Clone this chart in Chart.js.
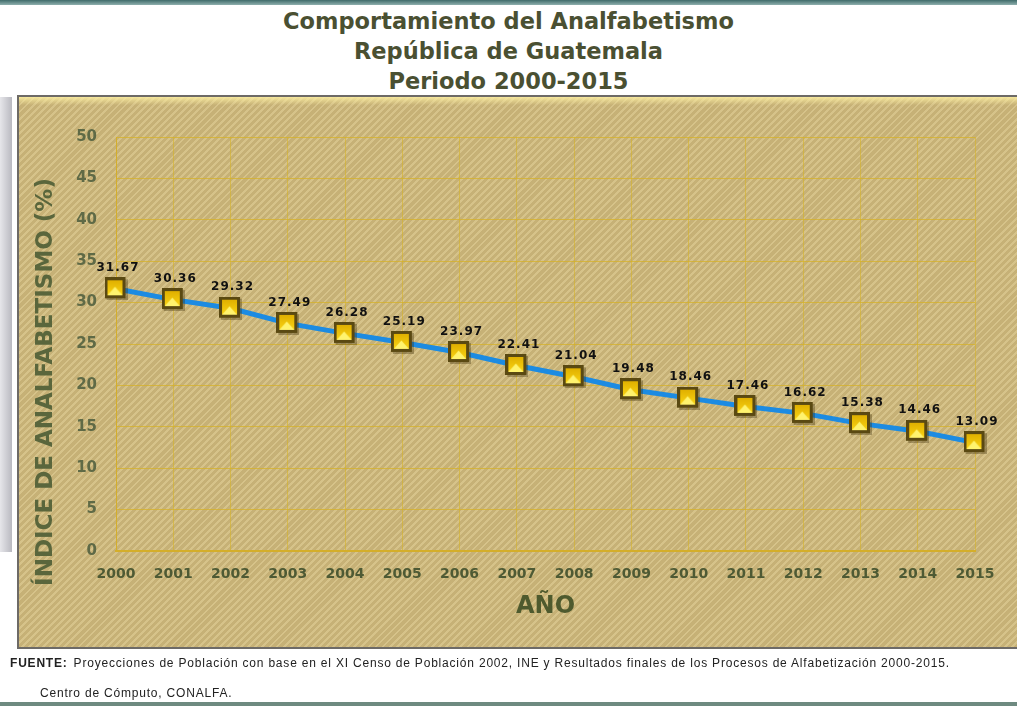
<!DOCTYPE html>
<html>
<head>
<meta charset="utf-8">
<script src="https://cdn.jsdelivr.net/npm/chart.js@4.4.1/dist/chart.umd.min.js"></script>
<style>
  body { margin: 0; background: #fff; width: 1017px; height: 706px; overflow: hidden; position: relative; font-family: "DejaVu Sans", sans-serif; }
  #topband { position: absolute; left: 0; top: 0; width: 1017px; height: 5px; background: linear-gradient(#3f6b6a, #8fb0ae); }
  #botband { position: absolute; left: 0; top: 702px; width: 1017px; height: 4px; background: #6e8a80; }
  #leftstrip { position: absolute; left: 0; top: 97px; width: 12px; height: 455px; background: linear-gradient(90deg, #e6e6ea, #b9b9c0); }
  #title { position: absolute; left: 0; top: 6px; width: 1017px; text-align: center; color: #4a5032; font-weight: bold; font-size: 22.5px; line-height: 30px; }
  #panel { position: absolute; left: 17px; top: 95px; width: 1010px; height: 550px; border: 2px solid #6d6a66;
    background-color: #cbb67b;
    background-image: linear-gradient(rgba(250,236,160,0.9), rgba(250,236,160,0) 8px),
      repeating-linear-gradient(135deg, rgba(255,240,190,0.22) 0 2px, rgba(120,95,40,0.06) 2px 5px); }
  #chart { position: absolute; left: 0; top: 0; }
  #fuente { position: absolute; left: 10px; top: 656px; font-family: "Liberation Sans", Arial, sans-serif; font-size: 12px; color: #222; letter-spacing: 0.8px; white-space: nowrap; }
  #fuente b { letter-spacing: 0.8px; margin-right: 6px; }
  #centro { position: absolute; left: 40px; top: 686px; font-family: "Liberation Sans", Arial, sans-serif; font-size: 12px; color: #222; letter-spacing: 0.8px; }
</style>
</head>
<body>
<div id="topband"></div>
<div id="leftstrip"></div>
<div id="title">Comportamiento del Analfabetismo<br>República de Guatemala<br>Periodo 2000-2015</div>
<div id="panel"></div>
<canvas id="chart" width="1017" height="706"></canvas>
<div id="fuente"><b>FUENTE:</b>Proyecciones de Población con base en el XI Censo de Población 2002, INE y Resultados finales de los Procesos de Alfabetización 2000-2015.</div>
<div id="centro">Centro de Cómputo, CONALFA.</div>
<div id="botband"></div>
<script>
// datos del grafico
var years = ['2000','2001','2002','2003','2004','2005','2006','2007','2008','2009','2010','2011','2012','2013','2014','2015'];
var indice = [31.67, 30.36, 29.32, 27.49, 26.28, 25.19, 23.97, 22.41, 21.04, 19.48, 18.46, 17.46, 16.62, 15.38, 14.46, 13.09];
var yMin = 0;
var yMax = 50;
var yStep = 5;
var yTitle = 'ÍNDICE DE ANALFABETISMO (%)';
var xTitle = 'AÑO';

// marcador cuadrado amarillo
function makeMarker(){
  var c = document.createElement('canvas');
  c.width = 23; c.height = 23;
  var g = c.getContext('2d');
  g.fillStyle = 'rgba(60,45,10,0.35)';
  g.fillRect(2, 2, 21, 21);
  g.fillStyle = '#5a4912';
  g.fillRect(0, 0, 21, 21);
  var grd = g.createLinearGradient(0, 3, 0, 18);
  grd.addColorStop(0, '#e0b000');
  grd.addColorStop(1, '#fad414');
  g.fillStyle = grd;
  g.fillRect(3, 3, 15, 15);
  g.fillStyle = '#fff36e';
  g.beginPath();
  g.moveTo(3, 18); g.lineTo(18, 18); g.lineTo(10.5, 9.5); g.closePath();
  g.fill();
  return c;
}
var marker = makeMarker();

var valueLabels = {
  id: 'valueLabels',
  afterDatasetsDraw: function(chart){
    var ctx = chart.ctx;
    var meta = chart.getDatasetMeta(0);
    ctx.save();
    ctx.font = 'bold 12px "DejaVu Sans"';
    ctx.letterSpacing = '1px';
    ctx.fillStyle = '#111';
    ctx.textAlign = 'center';
    ctx.textBaseline = 'middle';
    for (var i = 0; i < meta.data.length; i++) {
      var p = meta.data[i];
      ctx.fillText(indice[i].toFixed(2), p.x + 2, p.y - 21);
    }
    ctx.restore();
  }
};

var yAxisTitle = {
  id: 'yAxisTitle',
  afterDraw: function(chart){
    var ctx = chart.ctx;
    ctx.save();
    ctx.translate(46, 382);
    ctx.rotate(-Math.PI / 2);
    ctx.font = 'bold 23px "DejaVu Sans"';
    ctx.fillStyle = '#5a663c';
    ctx.textAlign = 'center';
    ctx.textBaseline = 'middle';
    ctx.fillText(yTitle, 0, 0);
    ctx.restore();
  }
};

var lineDiv = document.getElementById('chart');
var newChart = new Chart(lineDiv, {
  type: 'line',
  data: {
    labels: years,
    datasets: [{
      label: 'Índice',
      data: indice,
      borderColor: '#1c8be2',
      borderWidth: 5,
      fill: false,
      tension: 0,
      pointStyle: marker,
      pointRadius: 11
    }]
  },
  plugins: [valueLabels, yAxisTitle],
  options: {
    responsive: false,
    animation: false,
    events: [],
    layout: { padding: { left: 0, right: 42, top: 137, bottom: 75 } },
    plugins: { legend: { display: false }, tooltip: { enabled: false } },
    scales: {
      x: {
        offset: false,
        afterFit: function(scale){ scale.height = 80; },
        grid: { color: 'rgba(214,178,40,0.6)', lineWidth: 1, drawTicks: false },
        border: { color: '#d4ae2a', width: 2 },
        ticks: { color: '#4e5a34', padding: 15, maxRotation: 0, autoSkip: false, font: { family: 'DejaVu Sans', size: 14, weight: 'bold' } },
        title: { display: true, text: xTitle, color: '#4e5a2e', padding: { top: 0, bottom: 10 }, font: { family: 'DejaVu Sans', size: 24, weight: 'bold' } }
      },
      y: {
        min: yMin,
        max: yMax,
        afterFit: function(scale){ scale.width = 116; },
        grid: { color: 'rgba(214,178,40,0.75)', lineWidth: 1, drawTicks: false },
        border: { color: '#d4ae2a', width: 1 },
        ticks: { stepSize: yStep, color: '#5f6a46', padding: 19, font: { family: 'DejaVu Sans', size: 15, weight: 'bold' } }
      }
    }
  }
});
</script>
</body>
</html>
